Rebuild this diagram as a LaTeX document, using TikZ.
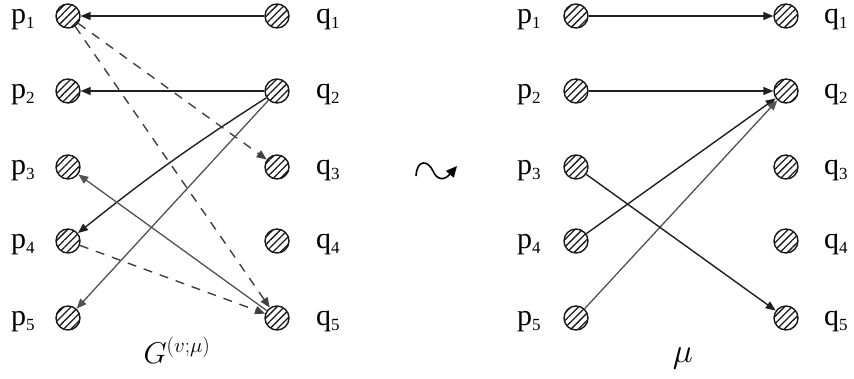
\RequirePackage{fix-cm}
\documentclass[tikz,border=0pt]{standalone}
\usepackage{fontspec}
\setmainfont{Liberation Serif}
\usetikzlibrary{arrows.meta,patterns.meta}
\newcommand{\lbsub}[2]{#1\raisebox{-5pt}{\fontsize{17}{17}\selectfont #2}}
\tikzset{
 vert/.style={circle,draw=black!90,line width=1.4pt,minimum size=24pt,inner sep=0pt,
   pattern={Lines[angle=45,distance=5.2pt,line width=1.3pt]},pattern color=black!90},
 lab/.style={anchor=base west,inner sep=0pt,font=\fontsize{30}{32}\selectfont},
 tip/.style={-{Triangle[length=10pt,width=8pt]}},
 darkarr/.style={draw=black!88,line width=1.4pt,tip},
 grayarr/.style={draw=black!68,line width=1.3pt,tip},
 dasharr/.style={draw=black!75,line width=1.4pt,dash pattern=on 9pt off 8pt,tip},
}
\begin{document}
\begin{tikzpicture}[x=1pt,y=-1pt]
\useasboundingbox (0,0) rectangle (854,378);
\foreach \i/\y in {1/16,2/91,3/167,4/241,5/318}{
  \node[vert] (lp\i) at (68,\y) {};
  \node[vert] (lq\i) at (277,\y) {};
  \node[lab] (lpl\i) at (11,\y+7) {\lbsub{p}{\i}};
  \node[lab] (lql\i) at (316,\y+7) {\lbsub{q}{\i}};
  \node[vert] (rp\i) at (576,\y) {};
  \node[vert] (rq\i) at (786,\y) {};
  \node[lab] (rpl\i) at (517,\y+7) {\lbsub{p}{\i}};
  \node[lab] (rql\i) at (824,\y+7) {\lbsub{q}{\i}};
}
% left graph
\draw[darkarr] (lq1) -- (lp1);
\draw[darkarr] (lq2) -- (lp2);
\draw[darkarr] (lq2) to[bend right=3] (lp4);
\draw[grayarr] (lq2) -- (lp5);
\draw[grayarr] (lq5) -- (lp3);
\draw[dasharr] (lp1) -- (lq3);
\draw[dasharr] (lp1) -- (lq5);
\draw[dasharr] (lp4) -- (lq5);
\node[anchor=base,inner sep=0pt,font=\fontsize{30}{32}\selectfont] (gl) at (177,363) {$G^{(v;\mu)}$};
% wave
\coordinate (w0) at (416,176);
\coordinate (w1) at (457,166);
\draw[line width=1.6pt,-{Triangle[length=11pt,width=10pt]}] (w0) .. controls (417,159) and (428,160) .. (433,171) .. controls (437,180) and (444,181) .. (w1);
% right graph
\draw[darkarr] (rp1) -- (rq1);
\draw[darkarr] (rp2) -- (rq2);
\draw[darkarr] (rp4) -- (rq2);
\draw[grayarr] (rp5) -- (rq2);
\draw[darkarr] (rp3) -- (rq5);
\node[anchor=base,inner sep=0pt,font=\fontsize{34}{36}\selectfont] (ml) at (683,362) {$\mu$};
\end{tikzpicture}
\end{document}
